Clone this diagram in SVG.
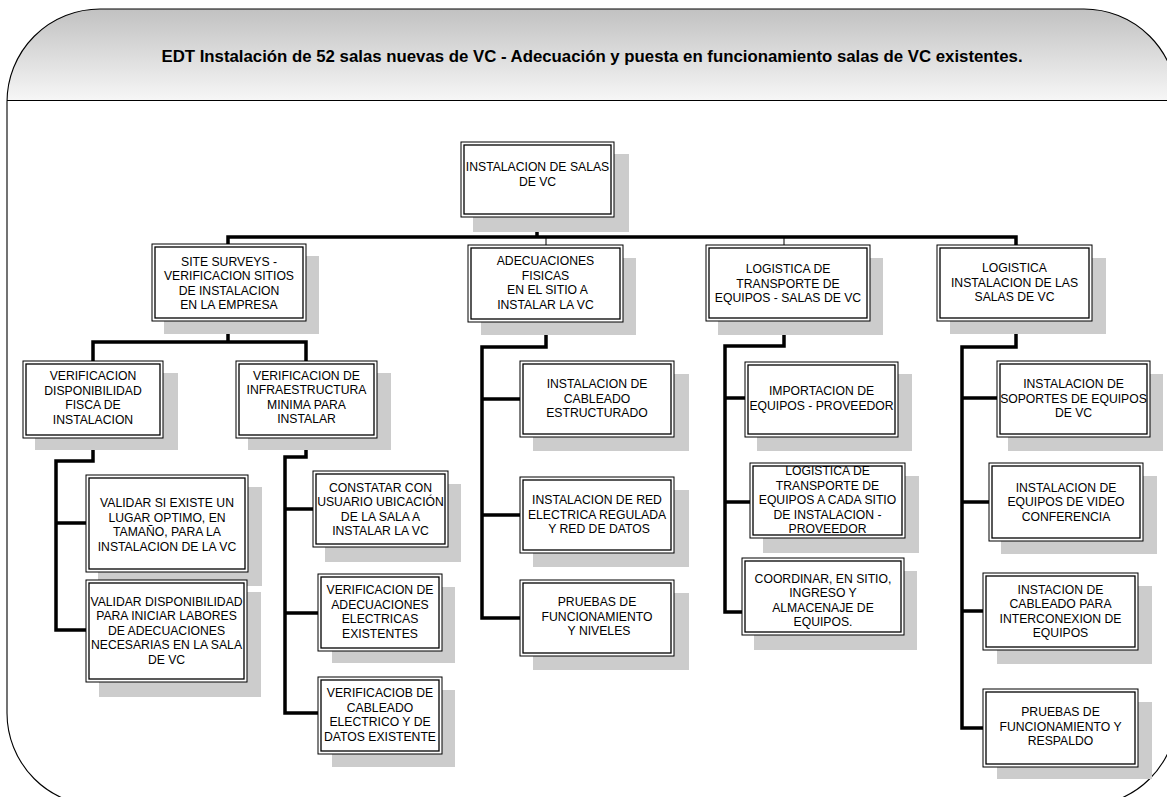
<svg xmlns="http://www.w3.org/2000/svg" width="1167" height="797" viewBox="0 0 1167 797">
<defs>
<linearGradient id="hdr" x1="0" y1="0" x2="0" y2="1">
<stop offset="0" stop-color="#bcbcbc"/>
<stop offset="1" stop-color="#f6f6f6"/>
</linearGradient>
<clipPath id="frameClip">
<rect x="7" y="9" width="1170" height="797" rx="93" ry="93"/>
</clipPath>
</defs>
<style>
.sh{fill:#cccccc;stroke:none}
.bo{fill:#ffffff;stroke:#000000;stroke-width:1}
.bi{fill:none;stroke:#000000;stroke-width:1.3}
.t{font-family:"Liberation Sans",Arial,sans-serif;font-size:12.2px;fill:#000000;text-anchor:middle}
.title{font-family:"Liberation Sans",Arial,sans-serif;font-size:16.8px;font-weight:bold;fill:#000000;text-anchor:middle}
.ck{fill:none;stroke:#000000;stroke-width:3.5;stroke-linejoin:miter;stroke-linecap:square}
.cn{fill:none;stroke:#000000;stroke-width:1}
</style>
<rect x="0" y="0" width="1167" height="797" fill="#ffffff"/>
<g id="frame">
<rect x="7" y="9" width="1170" height="797" rx="93" ry="93" fill="#ffffff"/>
<rect x="0" y="0" width="1200" height="100" fill="url(#hdr)" clip-path="url(#frameClip)"/>
<rect x="7" y="9" width="1170" height="797" rx="93" ry="93" fill="none" stroke="#000000" stroke-width="1.1"/>
<line x1="7" y1="100.5" x2="1177" y2="100.5" stroke="#000000" stroke-width="1.1"/>
<text class="title" x="592" y="62">EDT Instalación de 52 salas nuevas de VC - Adecuación y puesta en funcionamiento salas de VC existentes.</text>
</g>
<g id="connectors">
<path class="ck" d="M537,217 V237 M228,237 H1016 M228,237 V244 M1016,237 V245"/>
<path class="cn" d="M546,237 V245 M784,237 V245"/>
<path class="ck" d="M228,321 V342 M93,342 H306 M93,342 V361 M306,342 V361"/>
<path class="ck" d="M93,438 V461 H56 V630 H86 M56,523 H86"/>
<path class="ck" d="M306,438 V457 H285 V713 H318 M285,509 H313 M285,613 H318"/>
<path class="ck" d="M546,322 V347 H482 V618 H520 M482,399 H520 M482,515 H520"/>
<path class="ck" d="M784,321 V346 H725 V612 H742 M725,398 H745 M725,502 H750"/>
<path class="ck" d="M1016,321 V347 H962 V728 H983 M962,398 H997 M962,502 H989 M962,611 H983"/>
</g>
<g id="n0">
<rect class="sh" x="473" y="154" width="156" height="78"/>
<rect class="bo" x="461" y="142" width="153" height="75"/>
<rect class="bi" x="464" y="145" width="147" height="69"/>
<text class="t" x="537.5" y="171">INSTALACION DE SALAS</text>
<text class="t" x="537.5" y="186">DE VC</text>
</g>
<g id="n1">
<rect class="sh" x="164" y="256" width="155" height="78"/>
<rect class="bo" x="152" y="244" width="154" height="77"/>
<rect class="bi" x="155" y="247" width="148" height="71"/>
<text class="t" x="229" y="266">SITE SURVEYS -</text>
<text class="t" x="229" y="280">VERIFICACION SITIOS</text>
<text class="t" x="229" y="294.5">DE INSTALACION</text>
<text class="t" x="229" y="309">EN LA EMPRESA</text>
</g>
<g id="n2">
<rect class="sh" x="481" y="258" width="155" height="77"/>
<rect class="bo" x="468" y="245" width="155" height="77"/>
<rect class="bi" x="471" y="248" width="149" height="71"/>
<text class="t" x="545.5" y="265">ADECUACIONES</text>
<text class="t" x="545.5" y="279.5">FISICAS</text>
<text class="t" x="547.5" y="294">EN EL SITIO A</text>
<text class="t" x="545.5" y="308.5">INSTALAR LA VC</text>
</g>
<g id="n3">
<rect class="sh" x="718" y="258" width="165" height="77"/>
<rect class="bo" x="706" y="245" width="164" height="76"/>
<rect class="bi" x="709" y="248" width="158" height="70"/>
<text class="t" x="788" y="273">LOGISTICA DE</text>
<text class="t" x="788" y="287.5">TRANSPORTE DE</text>
<text class="t" x="788" y="302">EQUIPOS - SALAS DE VC</text>
</g>
<g id="n4">
<rect class="sh" x="950" y="258" width="156" height="76"/>
<rect class="bo" x="937" y="245" width="155" height="76"/>
<rect class="bi" x="940" y="248" width="149" height="70"/>
<text class="t" x="1014.5" y="272">LOGISTICA</text>
<text class="t" x="1014.5" y="286.5">INSTALACION DE LAS</text>
<text class="t" x="1014.5" y="301">SALAS DE VC</text>
</g>
<g id="n11">
<rect class="sh" x="35" y="373" width="143" height="77"/>
<rect class="bo" x="23" y="361" width="140" height="77"/>
<rect class="bi" x="26" y="364" width="134" height="71"/>
<text class="t" x="93" y="380">VERIFICACION</text>
<text class="t" x="93" y="394.5">DISPONIBILIDAD</text>
<text class="t" x="93" y="409">FISCA DE</text>
<text class="t" x="93" y="423.5">INSTALACION</text>
</g>
<g id="n12">
<rect class="sh" x="248" y="373" width="143" height="77"/>
<rect class="bo" x="236" y="361" width="141" height="77"/>
<rect class="bi" x="239" y="364" width="135" height="71"/>
<text class="t" x="306.5" y="379.5">VERIFICACION DE</text>
<text class="t" x="306.5" y="394">INFRAESTRUCTURA</text>
<text class="t" x="306.5" y="408.5">MINIMA PARA</text>
<text class="t" x="306.5" y="423">INSTALAR</text>
</g>
<g id="n111">
<rect class="sh" x="98" y="487" width="164" height="99"/>
<rect class="bo" x="86" y="475" width="162" height="97"/>
<rect class="bi" x="89" y="478" width="156" height="91"/>
<text class="t" x="167" y="507">VALIDAR SI EXISTE UN</text>
<text class="t" x="167" y="521.5">LUGAR OPTIMO, EN</text>
<text class="t" x="167" y="536">TAMAÑO, PARA LA</text>
<text class="t" x="167" y="550.5">INSTALACION DE LA VC</text>
</g>
<g id="n112">
<rect class="sh" x="99" y="592" width="162" height="105"/>
<rect class="bo" x="86" y="580" width="161" height="102"/>
<rect class="bi" x="89" y="583" width="155" height="96"/>
<text class="t" x="166.5" y="605.5">VALIDAR DISPONIBILIDAD</text>
<text class="t" x="166.5" y="620">PARA INICIAR LABORES</text>
<text class="t" x="166.5" y="634.5">DE ADECUACIONES</text>
<text class="t" x="166.5" y="649">NECESARIAS EN LA SALA</text>
<text class="t" x="166.5" y="663.5">DE VC</text>
</g>
<g id="n121">
<rect class="sh" x="325" y="484" width="136" height="78"/>
<rect class="bo" x="313" y="471" width="135" height="76"/>
<rect class="bi" x="316" y="474" width="129" height="70"/>
<text class="t" x="380.5" y="491.5">CONSTATAR CON</text>
<text class="t" x="380.5" y="506">USUARIO UBICACIÓN</text>
<text class="t" x="380.5" y="520.5">DE LA SALA A</text>
<text class="t" x="380.5" y="535">INSTALAR LA VC</text>
</g>
<g id="n122">
<rect class="sh" x="332" y="587" width="123" height="76"/>
<rect class="bo" x="318" y="574" width="124" height="77"/>
<rect class="bi" x="321" y="577" width="118" height="71"/>
<text class="t" x="380" y="594">VERIFICACION DE</text>
<text class="t" x="380" y="608.5">ADECUACIONES</text>
<text class="t" x="380" y="623">ELECTRICAS</text>
<text class="t" x="380" y="637.5">EXISTENTES</text>
</g>
<g id="n123">
<rect class="sh" x="332" y="690" width="123" height="77"/>
<rect class="bo" x="318" y="677" width="124" height="77"/>
<rect class="bi" x="321" y="680" width="118" height="71"/>
<text class="t" x="380" y="697">VERIFICACIOB DE</text>
<text class="t" x="380" y="711.5">CABLEADO</text>
<text class="t" x="380" y="726">ELECTRICO Y DE</text>
<text class="t" x="380" y="740.5">DATOS EXISTENTE</text>
</g>
<g id="n21">
<rect class="sh" x="533" y="374" width="156" height="77"/>
<rect class="bo" x="520" y="361" width="154" height="76"/>
<rect class="bi" x="523" y="364" width="148" height="70"/>
<text class="t" x="597" y="388">INSTALACION DE</text>
<text class="t" x="597" y="402.5">CABLEADO</text>
<text class="t" x="597" y="417">ESTRUCTURADO</text>
</g>
<g id="n22">
<rect class="sh" x="533" y="490" width="156" height="77"/>
<rect class="bo" x="520" y="477" width="154" height="76"/>
<rect class="bi" x="523" y="480" width="148" height="70"/>
<text class="t" x="597" y="504">INSTALACION DE RED</text>
<text class="t" x="597" y="518.5">ELECTRICA REGULADA</text>
<text class="t" x="599" y="533">Y RED DE DATOS</text>
</g>
<g id="n23">
<rect class="sh" x="533" y="593" width="156" height="77"/>
<rect class="bo" x="520" y="580" width="154" height="76"/>
<rect class="bi" x="523" y="583" width="148" height="70"/>
<text class="t" x="597" y="606">PRUEBAS DE</text>
<text class="t" x="597" y="620.5">FUNCIONAMIENTO</text>
<text class="t" x="599" y="635">Y NIVELES</text>
</g>
<g id="n31">
<rect class="sh" x="757" y="374" width="155" height="77"/>
<rect class="bo" x="745" y="362" width="153" height="75"/>
<rect class="bi" x="748" y="365" width="147" height="69"/>
<text class="t" x="821.5" y="395">IMPORTACION DE</text>
<text class="t" x="821.5" y="410">EQUIPOS - PROVEEDOR</text>
</g>
<g id="n32">
<rect class="sh" x="763" y="476" width="156" height="77"/>
<rect class="bo" x="750" y="463" width="155" height="75"/>
<rect class="bi" x="753" y="466" width="149" height="69"/>
<text class="t" x="827.5" y="475">LOGISTICA DE</text>
<text class="t" x="827.5" y="489.5">TRANSPORTE DE</text>
<text class="t" x="827.5" y="504">EQUIPOS A CADA SITIO</text>
<text class="t" x="827.5" y="518.5">DE INSTALACION -</text>
<text class="t" x="827.5" y="533">PROVEEDOR</text>
</g>
<g id="n33">
<rect class="sh" x="754" y="571" width="163" height="79"/>
<rect class="bo" x="742" y="558" width="162" height="77"/>
<rect class="bi" x="745" y="561" width="156" height="71"/>
<text class="t" x="823" y="582.5">COORDINAR, EN SITIO,</text>
<text class="t" x="823" y="597">INGRESO Y</text>
<text class="t" x="823" y="611.5">ALMACENAJE DE</text>
<text class="t" x="823" y="626">EQUIPOS.</text>
</g>
<g id="n41">
<rect class="sh" x="1008" y="374" width="155" height="77"/>
<rect class="bo" x="997" y="361" width="153" height="76"/>
<rect class="bi" x="1000" y="364" width="147" height="70"/>
<text class="t" x="1073.5" y="388">INSTALACION DE</text>
<text class="t" x="1073.5" y="402.5">SOPORTES DE EQUIPOS</text>
<text class="t" x="1073.5" y="417">DE VC</text>
</g>
<g id="n42">
<rect class="sh" x="1001" y="476" width="156" height="78"/>
<rect class="bo" x="989" y="463" width="154" height="78"/>
<rect class="bi" x="992" y="466" width="148" height="72"/>
<text class="t" x="1066" y="491.5">INSTALACION DE</text>
<text class="t" x="1066" y="506">EQUIPOS DE VIDEO</text>
<text class="t" x="1066" y="520.5">CONFERENCIA</text>
</g>
<g id="n43">
<rect class="sh" x="997" y="586" width="155" height="78"/>
<rect class="bo" x="983" y="573" width="155" height="77"/>
<rect class="bi" x="986" y="576" width="149" height="71"/>
<text class="t" x="1060.5" y="593.5">INSTACION DE</text>
<text class="t" x="1060.5" y="608">CABLEADO PARA</text>
<text class="t" x="1060.5" y="622.5">INTERCONEXION DE</text>
<text class="t" x="1060.5" y="637">EQUIPOS</text>
</g>
<g id="n44">
<rect class="sh" x="997" y="702" width="155" height="77"/>
<rect class="bo" x="983" y="689" width="155" height="78"/>
<rect class="bi" x="986" y="692" width="149" height="72"/>
<text class="t" x="1060.5" y="716">PRUEBAS DE</text>
<text class="t" x="1060.5" y="730.5">FUNCIONAMIENTO Y</text>
<text class="t" x="1060.5" y="745">RESPALDO</text>
</g>
</svg>
